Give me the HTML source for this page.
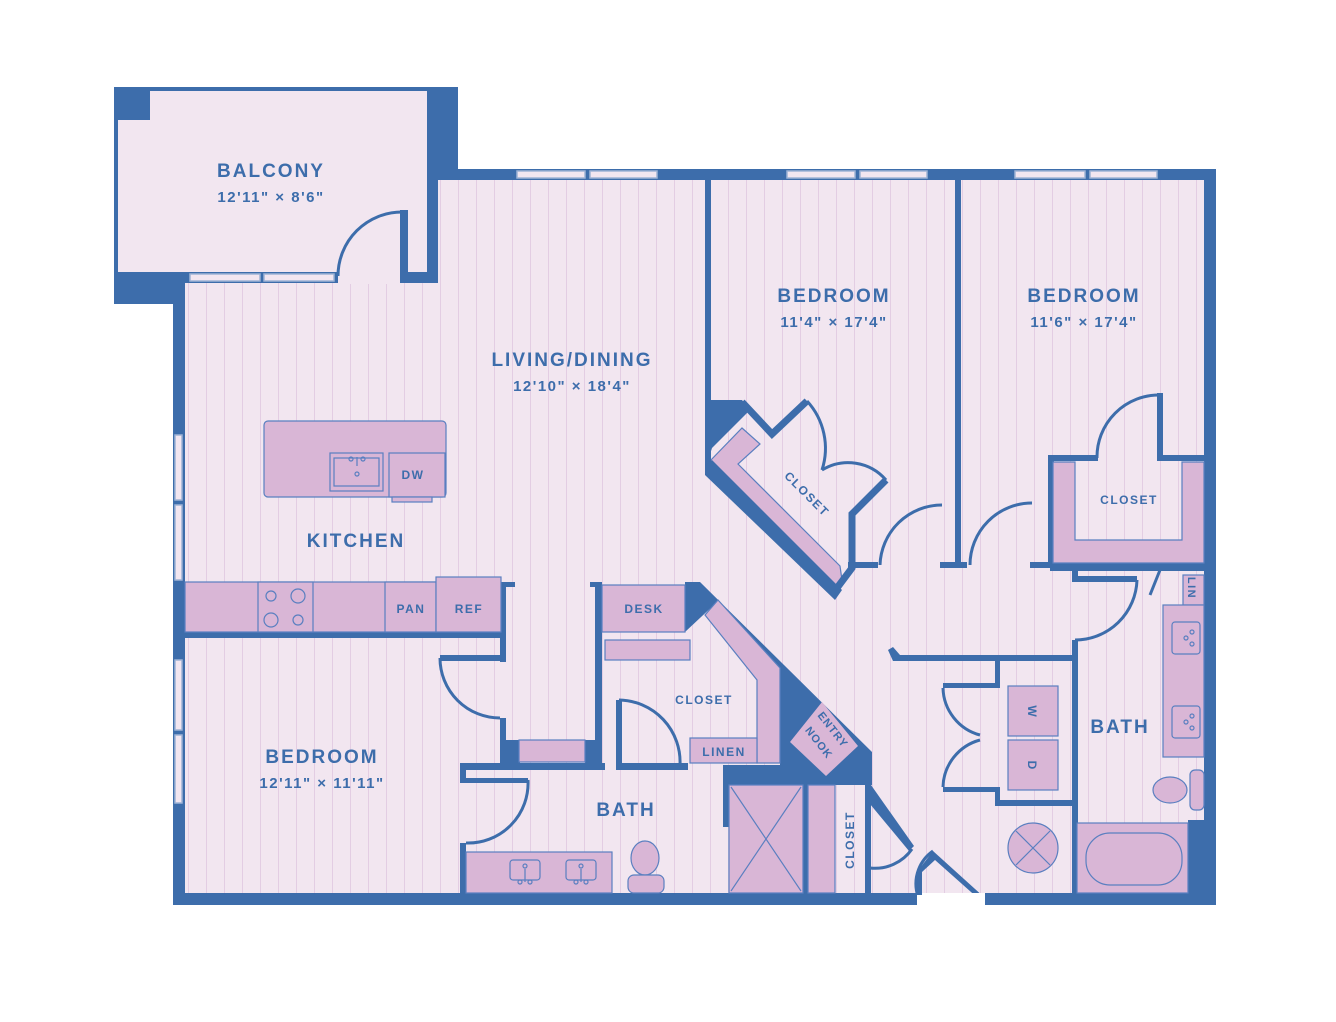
<!DOCTYPE html>
<html><head><meta charset="utf-8"><style>
html,body{margin:0;padding:0;background:#fff}
svg{display:block}
text{font-family:"Liberation Sans",sans-serif;font-weight:bold;fill:#3d6dab}
</style></head><body>
<svg width="1336" height="1022" viewBox="0 0 1336 1022" xmlns="http://www.w3.org/2000/svg">
<defs>
<pattern id="st" x="0" y="0" width="18" height="10" patternUnits="userSpaceOnUse">
<rect width="18" height="10" fill="#f2e6f0"/><rect x="8" width="1" height="10" fill="#e3cde3"/>
</pattern>
</defs>
<rect x="117" y="90" width="312" height="184" fill="#f2e6f0"/>
<rect x="438" y="180" width="766" height="713" fill="url(#st)"/>
<rect x="185" y="283" width="260" height="610" fill="url(#st)"/>
<rect x="338" y="270" width="64" height="14" fill="#f2e6f0"/>
<g fill="#3d6dab">
<rect x="114" y="87" width="344" height="4"/>
<rect x="114" y="87" width="4" height="217"/>
<rect x="114" y="87" width="36" height="33"/>
<rect x="427" y="87" width="31" height="93"/>
<rect x="427" y="87" width="11" height="196"/>
<rect x="114" y="272" width="71" height="32"/>
<rect x="173" y="272" width="12" height="633"/>
<rect x="185" y="272" width="153" height="11"/>
<rect x="400" y="210" width="8" height="65"/>
<rect x="400" y="272" width="38" height="11"/>
<rect x="438" y="169" width="778" height="11"/>
<rect x="1204" y="169" width="12" height="736"/>
<rect x="173" y="893" width="744" height="12"/>
<rect x="985" y="893" width="231" height="12"/>
</g>
<g fill="#f2e6f0" stroke="#9fb3d6" stroke-width="1.5">
<rect x="190" y="274" width="70" height="7"/><rect x="264" y="274" width="70" height="7"/>
<rect x="517" y="171" width="68" height="7"/><rect x="590" y="171" width="67" height="7"/>
<rect x="787" y="171" width="68" height="7"/><rect x="860" y="171" width="67" height="7"/>
<rect x="1015" y="171" width="70" height="7"/><rect x="1090" y="171" width="67" height="7"/>
<rect x="175" y="435" width="7" height="65"/><rect x="175" y="505" width="7" height="75"/>
<rect x="175" y="660" width="7" height="70"/><rect x="175" y="735" width="7" height="68"/>
</g>
<g fill="none" stroke="#3d6dab" stroke-width="3">
<path d="M402 212 A64 64 0 0 0 338 276"/>
</g>
<polygon points="709,462 742,428 760,444 738,464 840,566 842,580 835,588" fill="#d9b6d6" stroke="#5a7fc0" stroke-width="1.2"/>
<g fill="#3d6dab">
<rect x="705" y="180" width="6" height="290"/>
<polygon points="705,400 742,400 750,410 712,448 705,470"/>
<polygon points="705,465 712,460 842,590 835,600 705,475"/>
<rect x="955" y="180" width="6" height="388"/>
<rect x="848" y="562" width="30" height="6"/>
<rect x="940" y="562" width="27" height="6"/>
<rect x="1030" y="562" width="20" height="6"/>
<rect x="1048" y="455" width="6" height="113"/>
<rect x="1048" y="455" width="50" height="6"/>
<rect x="1157" y="393" width="6" height="68"/>
<rect x="1157" y="455" width="47" height="6"/>
<rect x="1050" y="563" width="154" height="8"/>
<rect x="1072" y="570" width="6" height="12"/>
<rect x="1072" y="576" width="65" height="6"/>
<rect x="1072" y="640" width="6" height="253"/>
<rect x="900" y="655" width="178" height="6"/>
<rect x="995" y="660" width="5" height="28"/>
<rect x="943" y="683" width="57" height="5"/>
<rect x="943" y="787" width="57" height="5"/>
<rect x="995" y="787" width="5" height="18"/>
<rect x="995" y="800" width="80" height="6"/>
<rect x="185" y="632" width="321" height="6"/>
<rect x="500" y="582" width="6" height="80"/>
<rect x="440" y="655" width="66" height="6"/>
<rect x="500" y="718" width="6" height="50"/>
<rect x="500" y="740" width="20" height="28"/>
<rect x="585" y="740" width="17" height="28"/>
<rect x="595" y="582" width="7" height="188"/>
<rect x="590" y="582" width="12" height="5"/>
<rect x="460" y="763" width="145" height="7"/>
<rect x="460" y="763" width="6" height="15"/>
<rect x="460" y="778" width="68" height="5"/>
<rect x="460" y="843" width="6" height="50"/>
<rect x="500" y="582" width="15" height="5"/>
<rect x="616" y="700" width="6" height="68"/>
<rect x="616" y="763" width="72" height="7"/>
<polygon points="685,582 700,582 872,752 872,785 723,785 723,765 780,765 780,672 716,603 685,632"/>
<rect x="803" y="785" width="5" height="108"/>
<rect x="865" y="785" width="6" height="108"/>
<rect x="723" y="785" width="6" height="42"/>
<polygon points="865,785 871,785 914,846 909,851 865,798"/>
<polygon points="933,851 985,898 980,900 935,860 922,872 917,872"/>
<polygon points="1188,820 1204,820 1204,893 1188,893"/>
<polygon points="888,650 893,647 900,655 900,661 893,661"/>
</g>
<g fill="none" stroke="#3d6dab" stroke-width="7" stroke-linejoin="miter">
<path d="M742 402 L772 434 L807 401"/>
<path d="M886 480 L852 514 L852 568 L834 592"/>
</g>
<rect x="917" y="893" width="68" height="15" fill="#fff"/>
<rect x="917" y="870" width="5" height="25" fill="#3d6dab"/>
<g fill="#d9b6d6" stroke="#5a7fc0" stroke-width="1.2">
<rect x="264" y="421" width="182" height="76" rx="4"/>
<rect x="330" y="453" width="53" height="38"/>
<rect x="334" y="458" width="45" height="28"/>
<rect x="389" y="453" width="56" height="44"/>
<rect x="392" y="497" width="40" height="5"/>
<rect x="185" y="582" width="315" height="50"/>
<rect x="258" y="582" width="55" height="50"/>
<rect x="385" y="582" width="51" height="50"/>
<rect x="436" y="577" width="65" height="55"/>
<rect x="602" y="585" width="83" height="47"/>
<rect x="605" y="640" width="85" height="20"/>
<rect x="519" y="740" width="66" height="22"/>
<polygon points="705,615 718,600 780,668 780,763 757,763 757,680"/>
<rect x="690" y="738" width="67" height="25"/>
<rect x="466" y="852" width="146" height="41"/>
<rect x="729" y="785" width="74" height="108"/>
<rect x="808" y="785" width="27" height="108"/>
<polygon points="1053,462 1075,462 1075,540 1182,540 1182,462 1204,462 1204,563 1053,563"/>
<rect x="1183" y="575" width="21" height="30"/>
<rect x="1163" y="605" width="41" height="152"/>
<rect x="1008" y="686" width="50" height="50"/>
<rect x="1008" y="740" width="50" height="50"/>
<rect x="1077" y="823" width="111" height="70"/>
<rect x="1086" y="833" width="96" height="52" rx="24"/>
<rect x="1190" y="770" width="14" height="40" rx="5"/>
<ellipse cx="1170" cy="790" rx="17" ry="13"/>
<ellipse cx="645" cy="858" rx="14" ry="17"/>
<rect x="628" y="875" width="36" height="18" rx="6"/>
<rect x="510" y="860" width="30" height="20" rx="3"/>
<rect x="566" y="860" width="30" height="20" rx="3"/>
<rect x="1172" y="622" width="28" height="32" rx="3"/>
<rect x="1172" y="706" width="28" height="32" rx="3"/>
</g>
<polygon points="790,742 822,702 858,746 826,776" fill="#d9b6d6"/>
<g fill="none" stroke="#5a7fc0" stroke-width="1.2">
<circle cx="271" cy="596" r="5"/><circle cx="298" cy="596" r="7"/>
<circle cx="271" cy="620" r="7"/><circle cx="298" cy="620" r="5"/>
<circle cx="1033" cy="848" r="25" fill="#d9b6d6"/>
<path d="M1016 831 L1050 865 M1050 831 L1016 865"/>
<path d="M731 787 L801 891 M801 787 L731 891"/>
<circle cx="525" cy="866" r="2"/><circle cx="581" cy="866" r="2"/>
<path d="M525 869 V882 M581 869 V882"/>
<circle cx="520" cy="882" r="2"/><circle cx="530" cy="882" r="2"/>
<circle cx="576" cy="882" r="2"/><circle cx="586" cy="882" r="2"/>
<circle cx="357" cy="474" r="2"/>
<circle cx="351" cy="459" r="2"/><circle cx="363" cy="459" r="2"/><path d="M357 457 V466"/>
<circle cx="1186" cy="638" r="2"/><circle cx="1192" cy="632" r="2"/><circle cx="1192" cy="644" r="2"/>
<circle cx="1186" cy="722" r="2"/><circle cx="1192" cy="716" r="2"/><circle cx="1192" cy="728" r="2"/>
</g>
<g fill="none" stroke="#3d6dab" stroke-width="3">
<path d="M440 658 A60 60 0 0 0 500 718"/>
<path d="M528 780 A60 60 0 0 1 466 843"/>
<path d="M619 700 A62 62 0 0 1 680 765"/>
<path d="M942 505 A62 62 0 0 0 880 565"/>
<path d="M1032 503 A62 62 0 0 0 970 565"/>
<path d="M1160 395 A62 62 0 0 0 1097 458"/>
<path d="M1137 580 A62 62 0 0 1 1075 640"/>
<path d="M943 688 A50 50 0 0 0 980 735"/>
<path d="M943 787 A50 50 0 0 1 980 740"/>
<path d="M807 401 A70 70 0 0 1 822 470"/>
<path d="M822 470 A50 50 0 0 1 886 480"/>
<path d="M912 849 A45 45 0 0 1 870 868"/>
<path d="M933 851 A40 40 0 0 0 917 893"/>
<path d="M1160 570 L1150 595"/>
</g>
<text x="271" y="177" font-size="19" text-anchor="middle" letter-spacing="2">BALCONY</text>
<text x="271" y="202" font-size="15" text-anchor="middle" letter-spacing="1.5">12'11" × 8'6"</text>
<text x="572" y="366" font-size="19" text-anchor="middle" letter-spacing="2">LIVING/DINING</text>
<text x="572" y="391" font-size="15" text-anchor="middle" letter-spacing="1.5">12'10" × 18'4"</text>
<text x="834" y="302" font-size="19" text-anchor="middle" letter-spacing="2">BEDROOM</text>
<text x="834" y="327" font-size="15" text-anchor="middle" letter-spacing="1.5">11'4" × 17'4"</text>
<text x="1084" y="302" font-size="19" text-anchor="middle" letter-spacing="2">BEDROOM</text>
<text x="1084" y="327" font-size="15" text-anchor="middle" letter-spacing="1.5">11'6" × 17'4"</text>
<text x="322" y="763" font-size="19" text-anchor="middle" letter-spacing="2">BEDROOM</text>
<text x="322" y="788" font-size="15" text-anchor="middle" letter-spacing="1.5">12'11" × 11'11"</text>
<text x="356" y="547" font-size="19" text-anchor="middle" letter-spacing="2">KITCHEN</text>
<text x="626" y="816" font-size="19" text-anchor="middle" letter-spacing="2">BATH</text>
<text x="1120" y="733" font-size="19" text-anchor="middle" letter-spacing="2">BATH</text>
<text x="411" y="613" font-size="12" text-anchor="middle" letter-spacing="1.5">PAN</text>
<text x="469" y="613" font-size="12" text-anchor="middle" letter-spacing="1.5">REF</text>
<text x="413" y="479" font-size="12" text-anchor="middle" letter-spacing="1.5">DW</text>
<text x="644" y="613" font-size="12" text-anchor="middle" letter-spacing="1.5">DESK</text>
<text x="704" y="704" font-size="12" text-anchor="middle" letter-spacing="1.5">CLOSET</text>
<text x="724" y="756" font-size="12" text-anchor="middle" letter-spacing="1.5">LINEN</text>
<text x="1129" y="504" font-size="12" text-anchor="middle" letter-spacing="1.5">CLOSET</text>
<text transform="translate(804,497) rotate(45)" font-size="12" text-anchor="middle" letter-spacing="1.5">CLOSET</text>
<text transform="translate(854,840) rotate(-90)" font-size="12" text-anchor="middle" letter-spacing="1.5">CLOSET</text>
<text transform="translate(1188,588) rotate(90)" font-size="11" text-anchor="middle" letter-spacing="1.5">LIN</text>
<text transform="translate(1028,711) rotate(90)" font-size="12" text-anchor="middle">W</text>
<text transform="translate(1028,765) rotate(90)" font-size="12" text-anchor="middle">D</text>
<text transform="translate(830,732) rotate(52)" font-size="11" text-anchor="middle" letter-spacing="1">ENTRY</text>
<text transform="translate(816,745) rotate(52)" font-size="11" text-anchor="middle" letter-spacing="1">NOOK</text>
</svg>
</body></html>
